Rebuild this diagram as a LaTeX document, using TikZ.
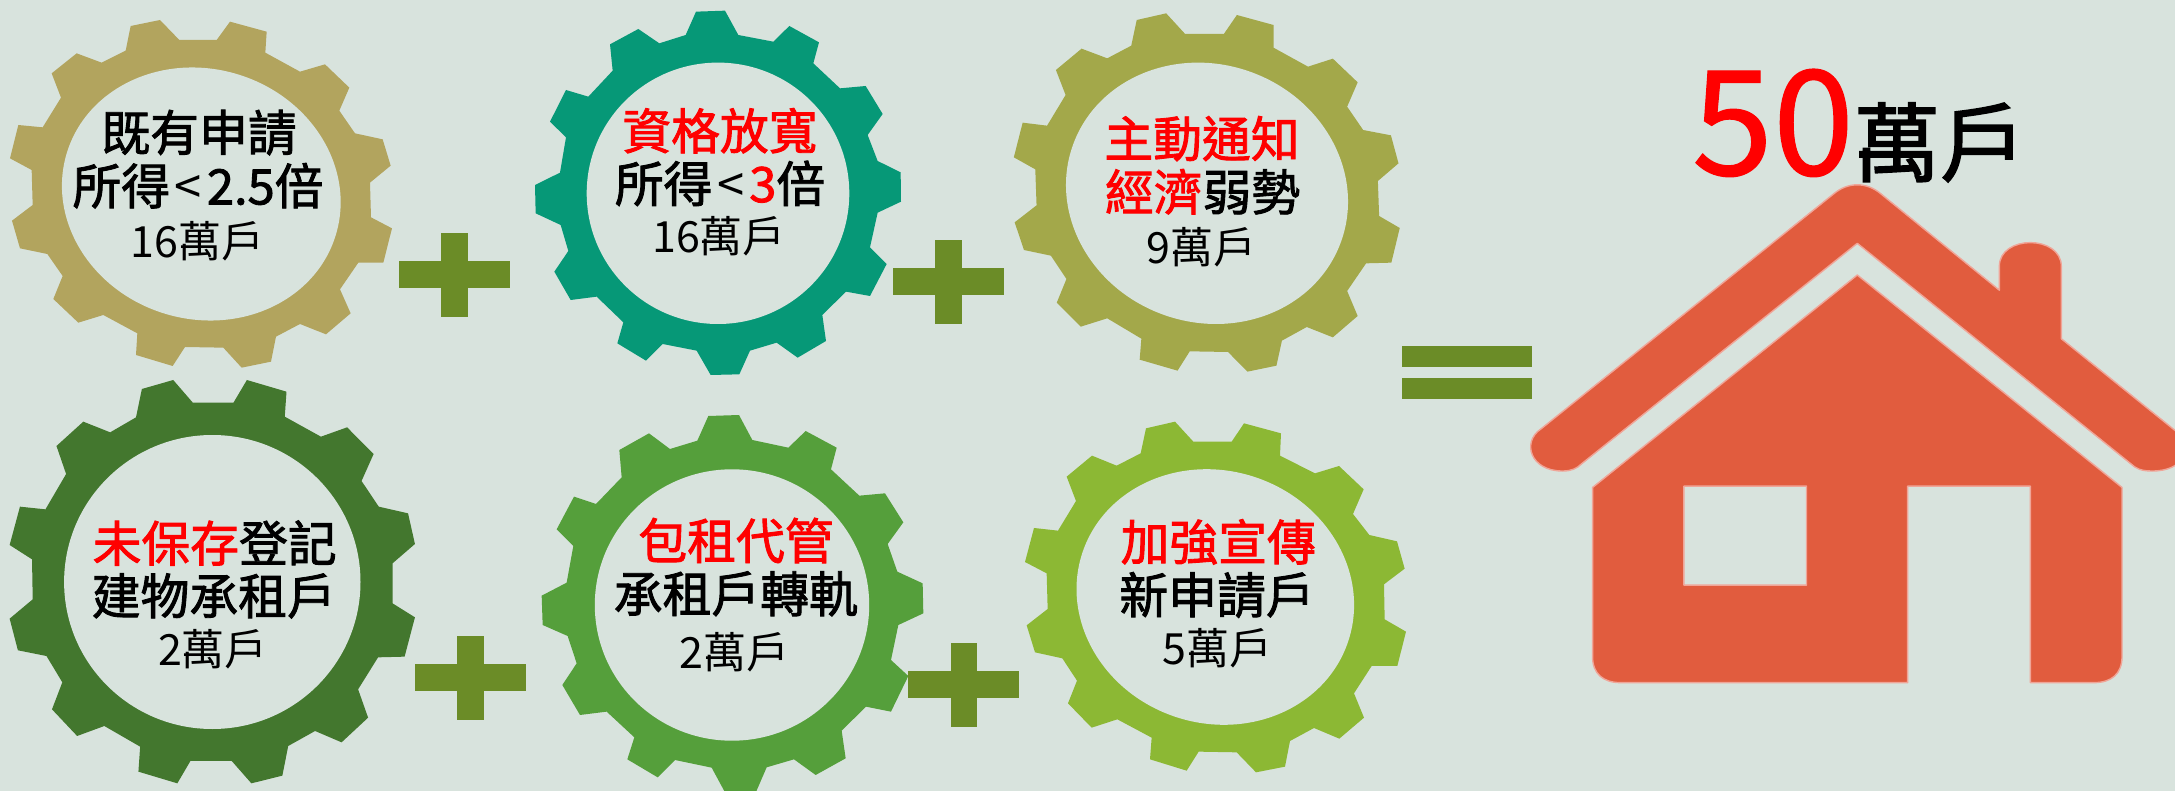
\documentclass[tikz,border=0pt]{standalone}
\usepackage{fontspec}
\setmainfont{Noto Sans CJK TC}
\newfontfamily\medf[FakeBold=1.8]{Noto Sans CJK TC}
\newfontfamily\numf[FakeBold=0.8]{Noto Sans CJK TC}
\definecolor{bgc}{HTML}{D8E3DD}
\definecolor{gA}{HTML}{B2A45E}
\definecolor{gB}{HTML}{069877}
\definecolor{gC}{HTML}{A3A84A}
\definecolor{gD}{HTML}{43772E}
\definecolor{gE}{HTML}{559F3B}
\definecolor{gF}{HTML}{8CB834}
\definecolor{plusc}{HTML}{6B8C27}
\definecolor{housec}{HTML}{E15C3E}
\definecolor{houseb}{HTML}{F0A598}
\definecolor{hot}{HTML}{FF0000}
\tikzset{
  hole/.style={fill=bgc},
  opbar/.style={fill=plusc},
  lineA/.style={anchor=base,inner sep=0pt,yshift=-9.2pt,font=\fontsize{24.4}{28}\selectfont\medf},
  lineC/.style={anchor=base,inner sep=0pt,yshift=-8pt,font=\fontsize{21.5}{24}\selectfont},
  housepart/.style={fill=housec,draw=houseb,line width=0.7pt,line join=round,even odd rule}
}
\newcommand{\plusbar}[8]{%
  \fill[opbar] (#1,#3) rectangle (#2,#4);
  \fill[opbar] (#5,#7) rectangle (#6,#8);}
\newcommand{\ltgap}{\hspace{0.1em}{\addfontfeature{FakeBold=0}<}\hspace{0.1em}}
\begin{document}
\begin{tikzpicture}[x=0.5pt,y=-0.5pt]
\useasboundingbox (0,0) rectangle (2175,791);
\fill[bgc] (0,0) rectangle (2175,791);
\clip (0,0) rectangle (2175,791);

% gear 1
\begin{scope}[shift={(0,0)},xscale=1/3,yscale=1/3]
\fill[gA] (480,60)--(538,120)--(650,120)--(690,65)--(800,95)--(796,158)--(900,215)--(975,193)--(1048,263)--(1018,332)--(1065,400)--(1148,418)--(1172,497)--(1110,548)--(1113,652)--(1176,685)--(1150,788)--(1075,788)--(1020,868)--(1052,940)--(978,1003)--(900,972)--(828,1010)--(813,1085)--(725,1103)--(670,1043)--(555,1041)--(518,1098)--(408,1065)--(412,1000)--(310,945)--(235,968)--(160,897)--(188,828)--(142,762)--(60,745)--(36,662)--(98,615)--(95,510)--(30,475)--(55,375)--(128,382)--(183,293)--(155,220)--(230,160)--(305,188)--(377,152)--(392,78)--cycle;
\end{scope}
\fill[hole,shift={(201.3,194)},rotate=-17] (0,0) ellipse [x radius=140.6,y radius=125.1];
% gear 2
\begin{scope}[shift={(520,0)},xscale=1/3,yscale=1/3]
\fill[gB] (528,35)--(615,32)--(655,105)--(760,125)--(808,78)--(897,127)--(880,190)--(960,265)--(1037,258)--(1088,342)--(1043,405)--(1073,483)--(1142,517)--(1143,605)--(1073,638)--(1050,742)--(1100,792)--(1050,888)--(978,875)--(907,945)--(918,1023)--(833,1073)--(770,1028)--(690,1052)--(658,1123)--(572,1125)--(530,1052)--(428,1032)--(378,1082)--(292,1030)--(310,967)--(230,890)--(152,900)--(103,815)--(145,753)--(122,675)--(47,640)--(45,555)--(120,518)--(138,412)--(90,365)--(138,270)--(205,290)--(278,212)--(270,133)--(355,87)--(418,130)--(497,105)--cycle;
\end{scope}
\fill[hole] (718,193.3) ellipse [x radius=131.3,y radius=130.7];
% gear 3
\begin{scope}[shift={(880,0)},xscale=1/2.376,yscale=1/3]
\fill[gC] (680,40)--(725,102)--(817,102)--(848,45)--(935,75)--(935,143)--(1017,200)--(1076,176)--(1135,247)--(1110,320)--(1148,390)--(1214,406)--(1232,490)--(1183,543)--(1186,648)--(1235,684)--(1215,788)--(1155,790)--(1110,873)--(1135,948)--(1076,1012)--(1014,981)--(955,1022)--(942,1097)--(873,1115)--(827,1056)--(736,1054)--(707,1112)--(617,1079)--(621,1016)--(540,955)--(477,980)--(420,908)--(443,837)--(406,767)--(342,750)--(320,667)--(372,616)--(369,508)--(318,472)--(339,368)--(397,377)--(441,285)--(418,210)--(479,146)--(540,175)--(597,137)--(610,60)--cycle;
\end{scope}
\fill[hole,shift={(1207,193.3)},rotate=-20] (0,0) ellipse [x radius=142.5,y radius=129];
% gear 4
\begin{scope}[shift={(0,370)},xscale=1/2.904,yscale=1/3]
\fill[gD] (503,30)--(560,98)--(678,98)--(717,30)--(832,65)--(827,140)--(932,200)--(1008,172)--(1085,252)--(1050,333)--(1100,410)--(1185,430)--(1205,522)--(1140,580)--(1140,700)--(1205,742)--(1175,860)--(1098,862)--(1040,958)--(1069,1043)--(992,1117)--(915,1083)--(837,1128)--(820,1217)--(730,1240)--(673,1173)--(553,1173)--(515,1240)--(402,1205)--(407,1130)--(303,1068)--(224,1098)--(151,1018)--(181,937)--(135,858)--(52,841)--(28,746)--(95,688)--(93,568)--(28,525)--(58,410)--(132,418)--(192,312)--(164,228)--(242,155)--(320,187)--(395,142)--(412,57)--cycle;
\end{scope}
\fill[hole] (212.3,582) ellipse [x radius=148.2,y radius=147];
% gear 5
\begin{scope}[shift={(530,400)},xscale=1/3,yscale=1/3]
\fill[gE] (535,48)--(627,45)--(667,120)--(775,143)--(827,93)--(920,143)--(903,208)--(988,287)--(1065,280)--(1120,367)--(1073,432)--(1102,515)--(1178,550)--(1180,640)--(1105,675)--(1083,780)--(1135,828)--(1083,935)--(1008,920)--(935,992)--(947,1075)--(857,1125)--(792,1078)--(710,1102)--(672,1190)--(592,1190)--(545,1103)--(435,1080)--(383,1132)--(292,1078)--(313,1012)--(230,935)--(150,945)--(97,855)--(140,790)--(113,708)--(38,675)--(35,587)--(110,548)--(130,438)--(80,388)--(132,290)--(198,312)--(275,232)--(268,150)--(357,100)--(420,147)--(502,122)--cycle;
\end{scope}
\fill[hole] (732,605) ellipse [x radius=137.2,y radius=135.7];
% gear 6
\begin{scope}[shift={(900,400)},xscale=1/3,yscale=1/3]
\fill[gF] (825,65)--(880,125)--(995,125)--(1032,70)--(1143,100)--(1140,167)--(1245,220)--(1317,198)--(1391,268)--(1359,342)--(1408,405)--(1491,424)--(1514,506)--(1452,553)--(1454,658)--(1518,695)--(1492,798)--(1415,798)--(1362,880)--(1392,953)--(1318,1016)--(1242,984)--(1170,1023)--(1155,1100)--(1068,1117)--(1010,1057)--(896,1055)--(860,1112)--(750,1078)--(755,1013)--(652,958)--(575,983)--(504,910)--(531,842)--(487,775)--(405,757)--(380,676)--(443,627)--(440,520)--(375,486)--(402,384)--(474,392)--(528,303)--(500,230)--(576,167)--(650,197)--(722,160)--(738,85)--cycle;
\end{scope}
\fill[hole,shift={(1215.3,597)},rotate=-18.6] (0,0) ellipse [x radius=140.1,y radius=126.3];

% plus and equals signs
\plusbar{399}{510}{261}{288}{441}{468}{233}{317}
\plusbar{892.6}{1004}{268}{295}{934.7}{961.6}{240}{323.7}
\plusbar{414.6}{525.8}{664}{691}{456.6}{483.5}{636.3}{719.7}
\plusbar{908}{1019.3}{671.3}{698.3}{950.7}{977.3}{643.3}{726.7}
\fill[opbar] (1401.9,346) rectangle (1531.7,367);
\fill[opbar] (1401.9,377.8) rectangle (1531.7,398.6);

% house
\begin{scope}[shift={(1500,30)},xscale=1/2.323,yscale=1/2.306]
\path[housepart] (775,378) .. controls (808,350) and (852,350) .. (885,378)
  -- (1160,600) -- (1160,545) .. controls (1160,472) and (1304,472) .. (1304,545)
  -- (1304,712) -- (1570,925) .. controls (1610,965) and (1590,1017) .. (1515,1017)
  .. controls (1490,1017) and (1478,1012) .. (1465,1000)
  -- (830,492) -- (190,1000) .. controls (178,1012) and (165,1017) .. (145,1017)
  .. controls (70,1017) and (50,950) .. (95,920) -- cycle;
\path[housepart] (830,565) -- (1445,1055) -- (1445,1445)
  .. controls (1445,1485) and (1420,1505) .. (1380,1505)
  -- (1232,1505) -- (1232,1052) -- (947,1052) -- (947,1505) -- (280,1505)
  .. controls (240,1505) and (215,1485) .. (215,1445) -- (215,1055) -- cycle
  (427,1052) rectangle (712,1280);
\end{scope}

% labels
\node[lineA] (a1) at (199,132.5) {既有申請};
\node[lineA] (a2) at (198,186) {所得\ltgap 2.5倍};
\node[lineC] (a3) at (197.5,242) {16萬戶};
\node[lineA,text=hot] (b1) at (720,131) {資格放寬};
\node[lineA] (b2) at (720,183.7) {所得\ltgap\textcolor{hot}{3}倍};
\node[lineC] (b3) at (719,236.7) {16萬戶};
\node[lineA] (c1) at (1202,138.7) {\textcolor{hot}{主動通知}};
\node[lineA] (c2) at (1202.6,192) {\textcolor{hot}{經濟}弱勢};
\node[lineC] (c3) at (1201.5,248) {9萬戶};
\node[lineA] (d1) at (214.7,543.3) {\textcolor{hot}{未保存}登記};
\node[lineA] (d2) at (213.8,596) {建物承租戶};
\node[lineC] (d3) at (213,649.7) {2萬戶};
\node[lineA,text=hot] (e1) at (736,540.8) {包租代管};
\node[lineA] (e2) at (735.8,593.8) {承租戶轉軌};
\node[lineC] (e3) at (734.3,652.5) {2萬戶};
\node[lineA,text=hot] (f1) at (1218.3,542) {加強宣傳};
\node[lineA] (f2) at (1217,595) {新申請戶};
\node[lineC] (f3) at (1217.5,648.7) {5萬戶};
\node[anchor=base,inner sep=0pt] (total) at (1859,175) {\fontsize{73}{80}\selectfont\numf\textcolor{hot}{50}\fontsize{43}{48}\selectfont\medf 萬戶};
\end{tikzpicture}
\end{document}
